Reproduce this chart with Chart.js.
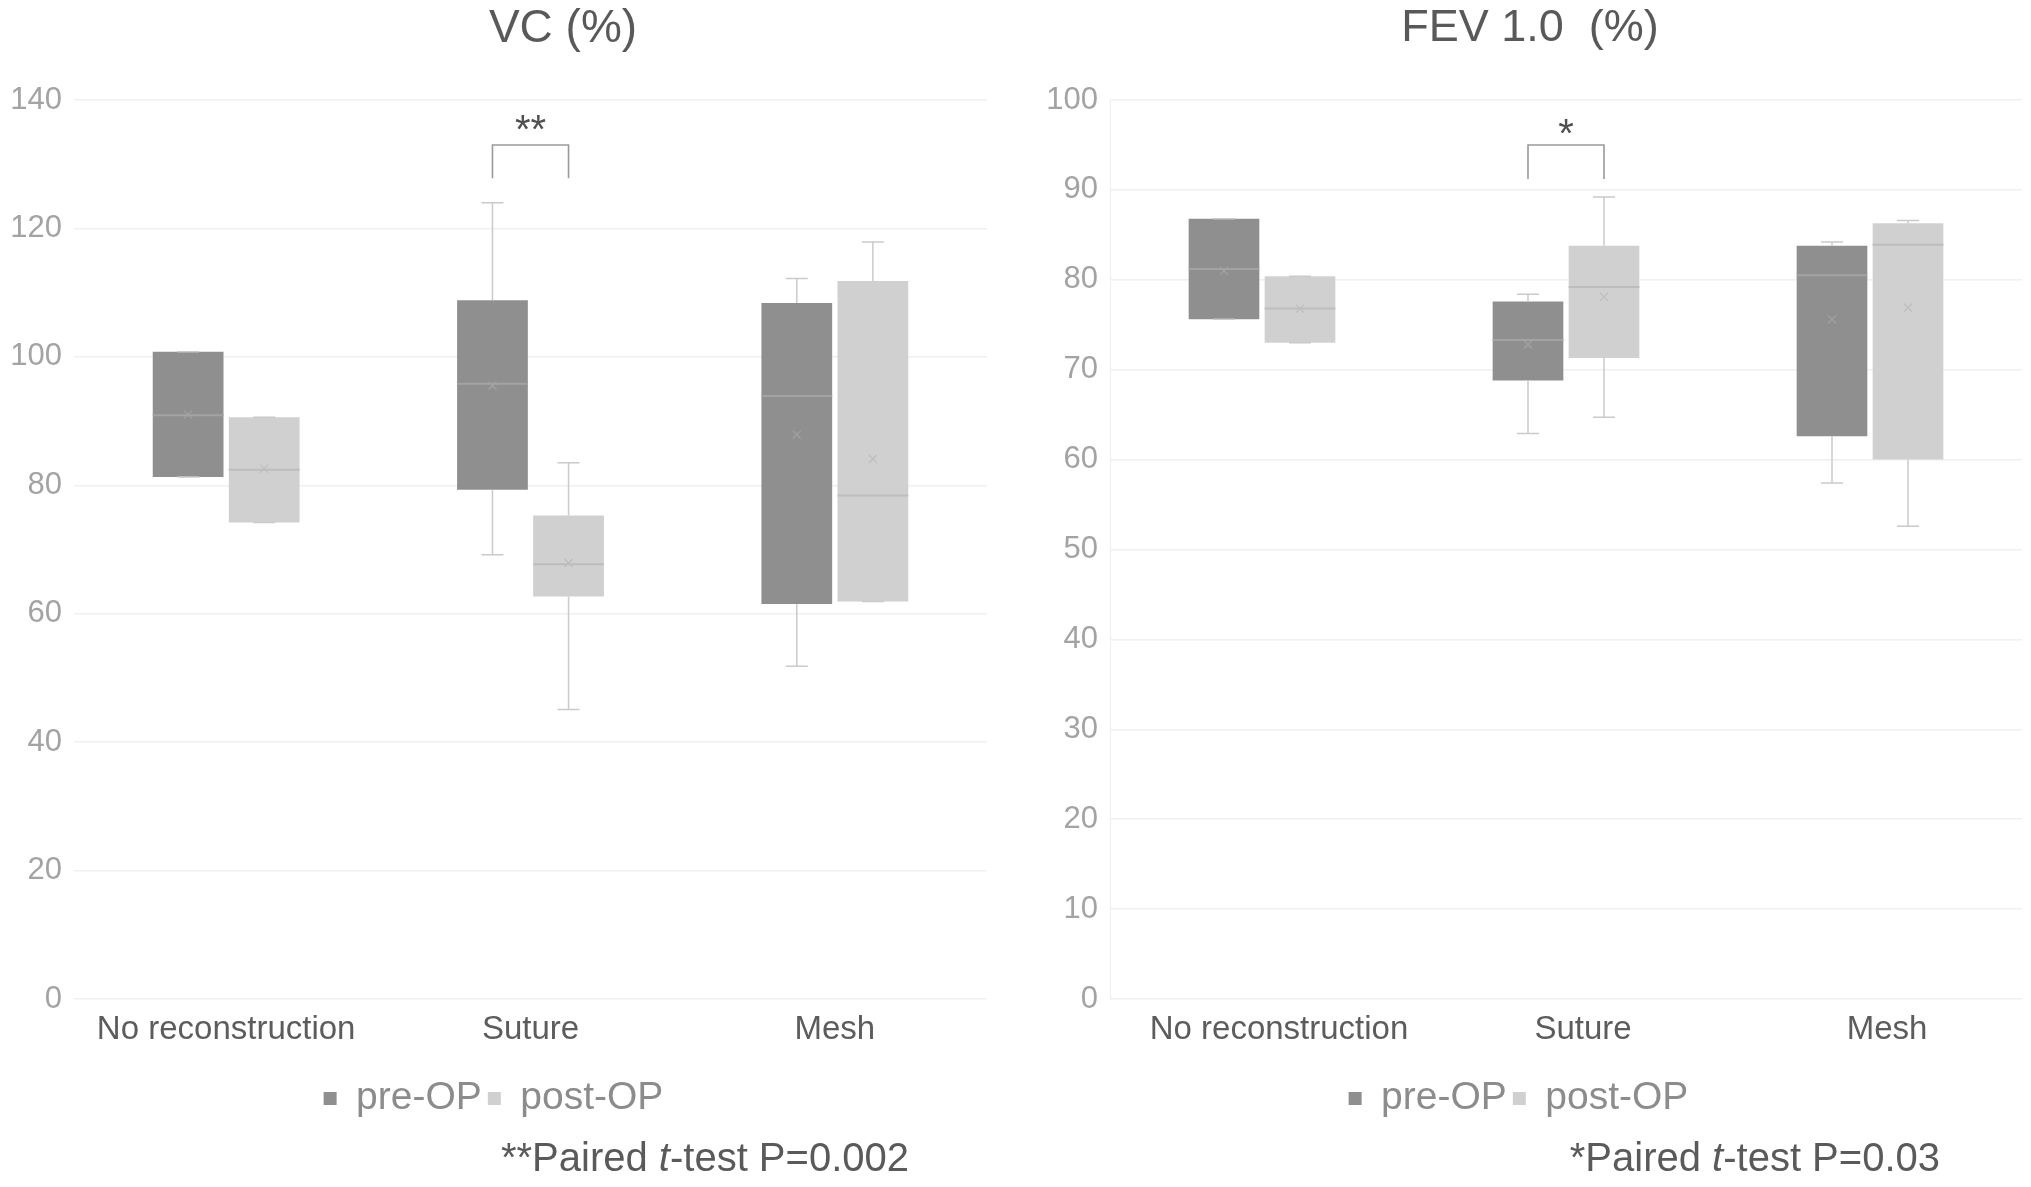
<!DOCTYPE html>
<html>
<head>
<meta charset="utf-8">
<script src="https://cdn.jsdelivr.net/npm/chart.js@4.4.1/dist/chart.umd.min.js"></script>
<style>
  body { margin: 0; background: #fff; font-family: 'Liberation Sans', Arial, sans-serif; }
  .panel { position: absolute; top: 0; height: 1187px; }
  #leftPanel { left: 0; width: 1015px; }
  #rightPanel { left: 1015px; width: 1016px; }
  .note { position: absolute; top: 1133px; font-size: 40px; line-height: 48px; color: #5a5a5a; white-space: nowrap; }
</style>
</head>
<body>
<div class="panel" id="leftPanel">
  <canvas id="vcChart"></canvas>
  <div class="note" style="right:106px">**Paired <i>t</i>-test P=0.002</div>
</div>
<div class="panel" id="rightPanel">
  <canvas id="fevChart"></canvas>
  <div class="note" style="right:91px">*Paired <i>t</i>-test P=0.03</div>
</div>
<script>
// groups on the x axis
var categories = ['No reconstruction', 'Suture', 'Mesh'];
var seriesNames = ['pre-OP', 'post-OP'];

// VC (%) box stats
var vcPreMin = [81.3, 69.2, 51.8];
var vcPreQ1 = [81.3, 79.3, 61.5];
var vcPreMed = [90.9, 95.8, 93.9];
var vcPreQ3 = [100.8, 108.8, 108.4];
var vcPreMax = [100.8, 124.0, 112.2];
var vcPreMean = [91.0, 95.5, 87.9];

var vcPostMin = [74.2, 45.1, 61.9];
var vcPostQ1 = [74.2, 62.7, 61.9];
var vcPostMed = [82.4, 67.7, 78.4];
var vcPostQ3 = [90.6, 75.3, 111.8];
var vcPostMax = [90.6, 83.5, 117.9];
var vcPostMean = [82.6, 67.9, 84.1];

// FEV 1.0 (%) box stats
var fevPreMin = [75.6, 62.9, 57.4];
var fevPreQ1 = [75.6, 68.8, 62.6];
var fevPreMed = [81.2, 73.3, 80.5];
var fevPreQ3 = [86.8, 77.6, 83.8];
var fevPreMax = [86.8, 78.4, 84.2];
var fevPreMean = [81.0, 72.8, 75.6];

var fevPostMin = [73.0, 64.7, 52.6];
var fevPostQ1 = [73.0, 71.3, 60.0];
var fevPostMed = [76.8, 79.2, 83.9];
var fevPostQ3 = [80.4, 83.8, 86.3];
var fevPostMax = [80.4, 89.2, 86.6];
var fevPostMean = [76.8, 78.1, 76.9];

var preColor = '#8f8f8f';
var postColor = '#d0d0d0';
var fontFamily = '"Liberation Sans", Arial, sans-serif';

function boxDataset(label, color, q1, q3, min, med, max, mean, medColor) {
  return {
    label: label,
    data: q1.map(function (v, i) { return [v, q3[i]]; }),
    backgroundColor: color,
    borderColor: color,
    borderWidth: 0,
    borderSkipped: false,
    categoryPercentage: 0.5,
    barPercentage: 0.93,
    stats: { min: min, med: med, max: max, mean: mean, medColor: medColor }
  };
}

// whiskers, medians and mean marks, placed through the chart's own scales
var boxExtras = {
  id: 'boxExtras',
  afterDatasetsDraw: function (chart) {
    var ctx = chart.ctx;
    var y = chart.scales.y;
    chart.data.datasets.forEach(function (ds, di) {
      var meta = chart.getDatasetMeta(di);
      var st = ds.stats;
      meta.data.forEach(function (bar, i) {
        var x = bar.x, hw = bar.width / 2;
        var yMin = y.getPixelForValue(st.min[i]);
        var yMax = y.getPixelForValue(st.max[i]);
        var yQ1 = y.getPixelForValue(ds.data[i][0]);
        var yQ3 = y.getPixelForValue(ds.data[i][1]);
        ctx.save();
        ctx.strokeStyle = '#cacaca';
        ctx.lineWidth = 1.5;
        ctx.beginPath();
        if (st.max[i] > ds.data[i][1]) {
          ctx.moveTo(x, yQ3); ctx.lineTo(x, yMax);
        }
        if (st.min[i] < ds.data[i][0]) {
          ctx.moveTo(x, yQ1); ctx.lineTo(x, yMin);
        }
        ctx.stroke();
        ctx.beginPath();
        ctx.moveTo(x - 11, yMax); ctx.lineTo(x + 11, yMax);
        ctx.moveTo(x - 11, yMin); ctx.lineTo(x + 11, yMin);
        ctx.stroke();
        // median
        var yMed = y.getPixelForValue(st.med[i]);
        ctx.strokeStyle = st.medColor;
        ctx.lineWidth = 2;
        ctx.beginPath();
        ctx.moveTo(x - hw, yMed); ctx.lineTo(x + hw, yMed);
        ctx.stroke();
        // mean cross
        var yMean = y.getPixelForValue(st.mean[i]);
        ctx.lineWidth = 1.2;
        ctx.beginPath();
        ctx.moveTo(x - 4, yMean - 4); ctx.lineTo(x + 4, yMean + 4);
        ctx.moveTo(x + 4, yMean - 4); ctx.lineTo(x - 4, yMean + 4);
        ctx.stroke();
        ctx.restore();
      });
    });
  }
};

// significance bracket between the two boxes of one group
var bracket = {
  id: 'bracket',
  afterDatasetsDraw: function (chart, args, opts) {
    var ctx = chart.ctx;
    var y = chart.scales.y;
    var x1 = chart.getDatasetMeta(0).data[opts.index].x;
    var x2 = chart.getDatasetMeta(1).data[opts.index].x;
    var yTop = y.getPixelForValue(opts.top);
    var yLeg = y.getPixelForValue(opts.leg);
    ctx.save();
    ctx.strokeStyle = '#9a9a9a';
    ctx.lineWidth = 1.6;
    ctx.beginPath();
    ctx.moveTo(x1, yLeg); ctx.lineTo(x1, yTop); ctx.lineTo(x2, yTop); ctx.lineTo(x2, yLeg);
    ctx.stroke();
    ctx.fillStyle = '#505050';
    ctx.font = '40px ' + fontFamily;
    ctx.textAlign = 'center';
    ctx.textBaseline = 'middle';
    ctx.fillText(opts.text, (x1 + x2) / 2, y.getPixelForValue(opts.textAt));
    ctx.restore();
  }
};

// panel heading, set a little off the canvas centre as in the figure
var panelTitle = {
  id: 'panelTitle',
  afterDraw: function (chart, args, opts) {
    var ctx = chart.ctx;
    ctx.save();
    ctx.fillStyle = '#595959';
    ctx.font = opts.size + 'px ' + fontFamily;
    ctx.textAlign = 'center';
    ctx.textBaseline = 'middle';
    ctx.fillText(opts.text, opts.x, 29);
    ctx.restore();
  }
};

function makeChart(id, title, datasets, yMax, yStep, axisWidth, padRight, labelShift, showBorder, mark) {
  return new Chart(document.getElementById(id), {
    type: 'bar',
    data: { labels: categories, datasets: datasets },
    plugins: [boxExtras, bracket, panelTitle],
    options: {
      responsive: true,
      maintainAspectRatio: false,
      animation: false,
      layout: { padding: { top: 100, right: padRight, bottom: 59, left: 0 } },
      plugins: {
        title: { display: false },
        panelTitle: title,
        legend: {
          position: 'bottom',
          labels: {
            boxWidth: 13,
            boxHeight: 13,
            padding: 6,
            color: '#8c8c8c',
            font: { size: 39, family: fontFamily }
          }
        },
        tooltip: { enabled: false },
        bracket: mark
      },
      scales: {
        x: {
          grid: { display: false, drawTicks: false },
          border: { display: false },
          ticks: {
            color: '#5c5c5c',
            padding: 11,
            labelOffset: labelShift,
            font: { size: 33, family: fontFamily }
          },
          afterFit: function (s) { s.height = 74; }
        },
        y: {
          min: 0,
          max: yMax,
          ticks: {
            stepSize: yStep,
            color: '#a3a3a3',
            padding: 12,
            font: { size: 31, family: fontFamily }
          },
          grid: { color: '#f0f0f0', lineWidth: 1.5, drawTicks: false },
          border: { display: showBorder, color: '#eeeeee' },
          afterFit: function (s) { s.width = axisWidth; }
        }
      }
    }
  });
}

makeChart('vcChart', { text: 'VC (%)', x: 563, size: 46 }, [
  boxDataset(seriesNames[0], preColor, vcPreQ1, vcPreQ3, vcPreMin, vcPreMed, vcPreMax, vcPreMean, '#a3a3a3'),
  boxDataset(seriesNames[1], postColor, vcPostQ1, vcPostQ3, vcPostMin, vcPostMed, vcPostMax, vcPostMean, '#bdbdbd')
], 140, 20, 74, 28, 0, false, { index: 1, top: 133.0, leg: 127.8, text: '**', textAt: 135.0 });

makeChart('fevChart', { text: 'FEV 1.0  (%)', x: 515, size: 45 }, [
  boxDataset(seriesNames[0], preColor, fevPreQ1, fevPreQ3, fevPreMin, fevPreMed, fevPreMax, fevPreMean, '#a3a3a3'),
  boxDataset(seriesNames[1], postColor, fevPostQ1, fevPostQ3, fevPostMin, fevPostMed, fevPostMax, fevPostMean, '#bdbdbd')
], 100, 10, 95, 9, 17, true, { index: 1, top: 95.0, leg: 91.2, text: '*', textAt: 96.0 });
</script>
</body>
</html>
